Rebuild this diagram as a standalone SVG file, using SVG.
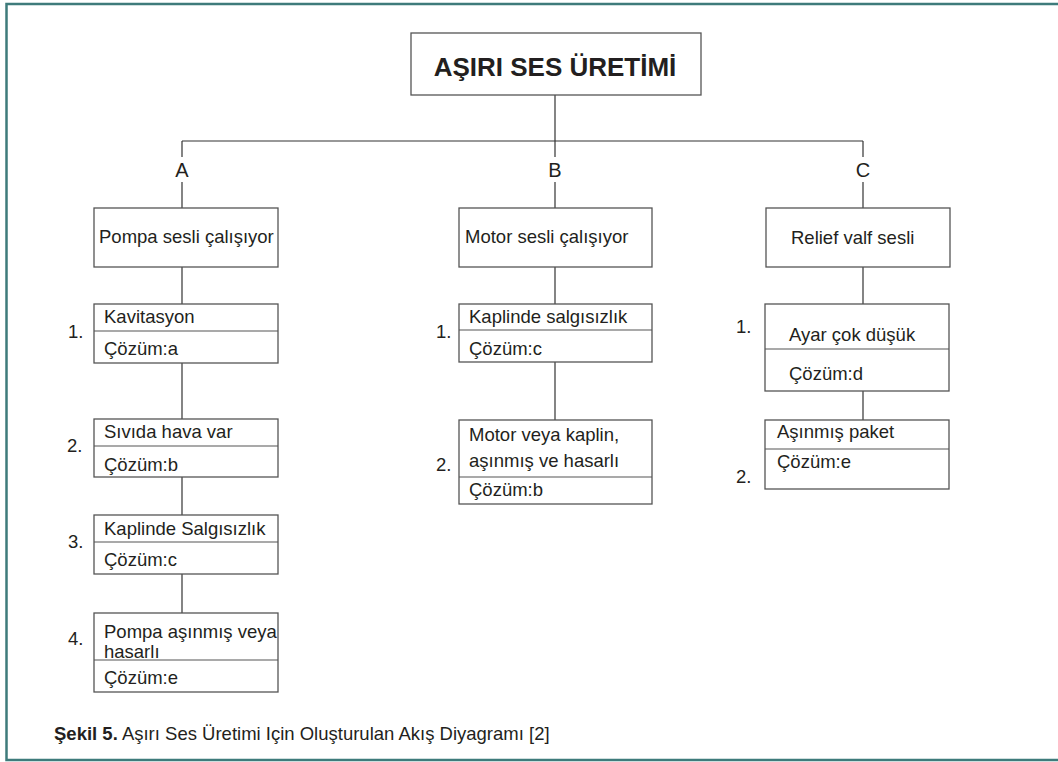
<svg xmlns="http://www.w3.org/2000/svg" width="1058" height="762" viewBox="0 0 1058 762">
<style>
.bx{fill:#fff;stroke:#555;stroke-width:1.3}
.dv{stroke:#555;stroke-width:1.2}
.ln{stroke:#333;stroke-width:1.2;fill:none}
.t{font-family:"Liberation Sans",Arial,sans-serif;font-size:18.5px;fill:#231f20}
.lab{font-family:"Liberation Sans",Arial,sans-serif;font-size:20px;fill:#231f20;text-anchor:middle}
.ttl{font-family:"Liberation Sans",Arial,sans-serif;font-size:26px;font-weight:bold;fill:#231f20;text-anchor:middle}
.cap{font-family:"Liberation Sans",Arial,sans-serif;font-size:18.5px;fill:#231f20}
</style>
<rect width="1058" height="762" fill="#fff"/>
<path d="M1058,4 H6.5 V760 H1058" fill="none" stroke="#3e7b7b" stroke-width="2.5"/>

<g id="connectors">
<line class="ln" x1="555" y1="95" x2="555" y2="141"/>
<line class="ln" x1="182" y1="141" x2="863" y2="141"/>
<line class="ln" x1="182" y1="141" x2="182" y2="157"/>
<line class="ln" x1="182" y1="182" x2="182" y2="208"/>
<line class="ln" x1="555" y1="141" x2="555" y2="157"/>
<line class="ln" x1="555" y1="182" x2="555" y2="208"/>
<line class="ln" x1="863" y1="141" x2="863" y2="157"/>
<line class="ln" x1="863" y1="182" x2="863" y2="208"/>
<line class="ln" x1="182" y1="267" x2="182" y2="304"/>
<line class="ln" x1="182" y1="363" x2="182" y2="419"/>
<line class="ln" x1="182" y1="477" x2="182" y2="515"/>
<line class="ln" x1="182" y1="574" x2="182" y2="613"/>
<line class="ln" x1="555" y1="267" x2="555" y2="304"/>
<line class="ln" x1="555" y1="362" x2="555" y2="420"/>
<line class="ln" x1="863" y1="267" x2="863" y2="304"/>
<line class="ln" x1="863" y1="391" x2="863" y2="420"/>
</g>

<g id="labels">
<text class="lab" x="182" y="177">A</text>
<text class="lab" x="555" y="177">B</text>
<text class="lab" x="863" y="177">C</text>
</g>

<g id="root">
<rect class="bx" x="411" y="33" width="290" height="62"/>
<text class="ttl" x="555" y="76">AŞIRI SES ÜRETİMİ</text>
</g>

<g id="a">
<rect class="bx" x="94" y="208" width="184" height="59"/>
<text class="t" x="99" y="243">Pompa sesli çalışıyor</text>
</g>
<g id="a1">
<rect class="bx" x="94" y="304" width="184" height="59"/>
<line class="dv" x1="94" y1="331" x2="278" y2="331"/>
<text class="t" x="104" y="323">Kavitasyon</text>
<text class="t" x="104" y="355">Çözüm:a</text>
<text class="t" x="68" y="338">1.</text>
</g>
<g id="a2">
<rect class="bx" x="94" y="419" width="184" height="58"/>
<line class="dv" x1="94" y1="446" x2="278" y2="446"/>
<text class="t" x="104" y="438">Sıvıda hava var</text>
<text class="t" x="104" y="471">Çözüm:b</text>
<text class="t" x="67" y="452">2.</text>
</g>
<g id="a3">
<rect class="bx" x="94" y="515" width="184" height="59"/>
<line class="dv" x1="94" y1="542" x2="278" y2="542"/>
<text class="t" x="104" y="535">Kaplinde Salgısızlık</text>
<text class="t" x="104" y="566">Çözüm:c</text>
<text class="t" x="68" y="548">3.</text>
</g>
<g id="a4">
<rect class="bx" x="94" y="613" width="184" height="79"/>
<line class="dv" x1="94" y1="660" x2="278" y2="660"/>
<text class="t" x="104" y="638">Pompa aşınmış veya</text>
<text class="t" x="104" y="658">hasarlı</text>
<text class="t" x="104" y="684">Çözüm:e</text>
<text class="t" x="68" y="645">4.</text>
</g>

<g id="b">
<rect class="bx" x="459" y="208" width="193" height="59"/>
<text class="t" x="465" y="243">Motor sesli çalışıyor</text>
</g>
<g id="b1">
<rect class="bx" x="459" y="304" width="193" height="58"/>
<line class="dv" x1="459" y1="330" x2="652" y2="330"/>
<text class="t" x="469" y="323">Kaplinde salgısızlık</text>
<text class="t" x="469" y="355">Çözüm:c</text>
<text class="t" x="436" y="338">1.</text>
</g>
<g id="b2">
<rect class="bx" x="459" y="420" width="193" height="84"/>
<line class="dv" x1="459" y1="477" x2="652" y2="477"/>
<text class="t" x="469" y="441">Motor veya kaplin,</text>
<text class="t" x="469" y="467">aşınmış ve hasarlı</text>
<text class="t" x="469" y="496">Çözüm:b</text>
<text class="t" x="436" y="471">2.</text>
</g>

<g id="c">
<rect class="bx" x="766" y="208" width="184" height="59"/>
<text class="t" x="791" y="244">Relief valf sesli</text>
</g>
<g id="c1">
<rect class="bx" x="765" y="304" width="184" height="87"/>
<line class="dv" x1="765" y1="349" x2="949" y2="349"/>
<text class="t" x="789" y="341">Ayar çok düşük</text>
<text class="t" x="789" y="380">Çözüm:d</text>
<text class="t" x="736" y="333">1.</text>
</g>
<g id="c2">
<rect class="bx" x="765" y="420" width="184" height="69"/>
<line class="dv" x1="765" y1="449" x2="949" y2="449"/>
<text class="t" x="777" y="438">Aşınmış paket</text>
<text class="t" x="777" y="468">Çözüm:e</text>
<text class="t" x="736" y="483">2.</text>
</g>

<g id="caption">
<text class="cap" x="54" y="740"><tspan font-weight="bold">Şekil 5.</tspan> Aşırı Ses Üretimi Için Oluşturulan Akış Diyagramı [2]</text>
</g>
</svg>
